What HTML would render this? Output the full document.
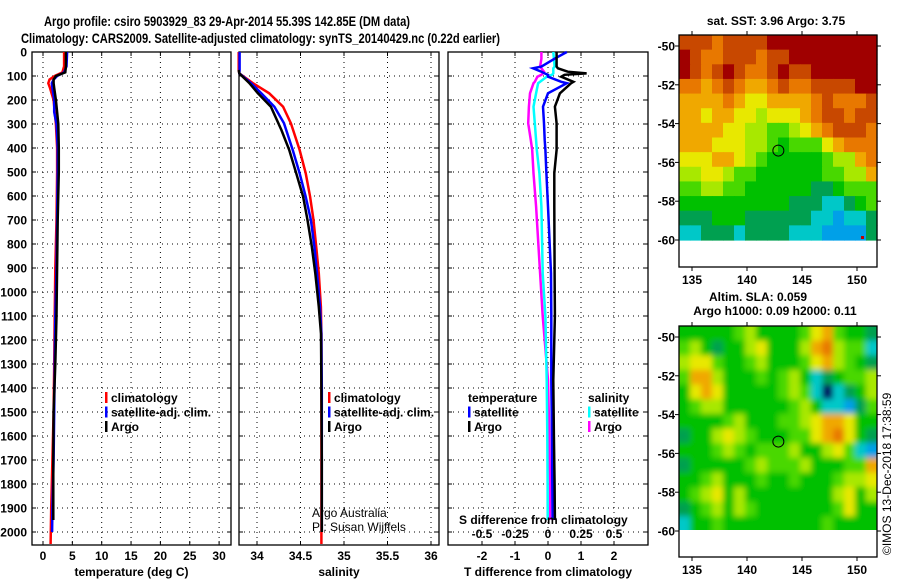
<!DOCTYPE html>
<html><head><meta charset="utf-8"><style>
html,body{margin:0;padding:0;background:#fff;}
svg{display:block;font-family:"Liberation Sans",Arial,sans-serif;}
.b{font-weight:bold;font-size:12px;}
</style></head><body>
<svg id="fig" width="900" height="580" viewBox="0 0 900 580" xmlns="http://www.w3.org/2000/svg">
<defs>
<filter id="blur" x="0" y="0" width="1" height="1"><feGaussianBlur stdDeviation="3"/></filter>
<clipPath id="slaclip"><rect x="679" y="326" width="198" height="204"/></clipPath>
</defs>
<text x="44" y="26" font-size="14" font-weight="bold" textLength="366" lengthAdjust="spacingAndGlyphs">Argo profile: csiro 5903929_83 29-Apr-2014 55.39S 142.85E (DM data)</text>
<text x="21" y="43" font-size="14" font-weight="bold" textLength="479" lengthAdjust="spacingAndGlyphs">Climatology: CARS2009. Satellite-adjusted climatology: synTS_20140429.nc (0.22d earlier)</text>
<g id="layer"></g>
</svg>
<script>
// ---------- data ----------
const tDepthClim=[0,60,85,100,115,130,150,200,250,300,400,500,700,900,1100,1300,1500,1700,1900,2050];
const tClim=[3.6,3.6,3.3,2.0,1.1,0.9,1.2,1.8,2.0,2.2,2.4,2.4,2.3,2.1,2.0,1.9,1.8,1.6,1.4,1.3];
const tDepthSat=[0,60,85,100,115,130,150,200,250,300,400,500,700,900,1100,1300,1500,1700,1900,2000];
const tSat=[4.1,4.0,3.6,2.4,1.8,1.5,1.6,1.9,1.9,2.3,2.5,2.5,2.4,2.3,2.1,2.0,1.9,1.8,1.6,1.55];
const tDepthArgo=[0,60,85,100,115,130,150,200,250,300,400,500,700,900,1100,1300,1500,1700,1950];
const tArgo=[3.9,3.9,3.8,2.2,1.8,1.8,1.9,2.2,2.4,2.6,2.7,2.7,2.5,2.4,2.3,2.1,1.8,1.75,1.75];
const sDepthClim=[0,75,89,129,172,228,297,408,505,603,700,811,922,1062,1174,1400,1700,2050];
const sClim=[33.79,33.79,33.797,33.95,34.14,34.30,34.39,34.49,34.56,34.61,34.65,34.68,34.71,34.735,34.74,34.74,34.74,34.74];
const sDepthSat=[0,75,89,129,172,228,297,408,505,603,700,811,922,1062,1174,1400,1700,2000];
const sSat=[33.80,33.80,33.797,33.93,34.05,34.20,34.31,34.41,34.49,34.56,34.62,34.66,34.69,34.724,34.74,34.745,34.745,34.745];
const sDepthArgo=[75,89,129,172,228,325,408,505,603,700,811,922,1062,1174,1400,1700,2000];
const sArgo=[33.79,33.797,33.91,34.01,34.16,34.28,34.37,34.45,34.53,34.58,34.63,34.67,34.71,34.736,34.74,34.745,34.745];
const dDepth=[0,28,61,68,82,89,95,103,124,130,172,228,297,367,408,505,644,922,1100,1367,1600,1800,1950];
const dTArgo=[0.26,0.26,0.26,0.3,0.6,1.17,0.5,0.4,0.77,0.7,0.36,0.21,0.26,0.26,0.26,0.19,0.19,0.2,0.21,0.16,0.18,0.2,0.21];
const dTSat=[0.57,0.2,-0.2,-0.45,-0.2,-0.1,0.0,0.0,0.4,0.57,0.0,-0.15,-0.12,-0.1,-0.08,-0.05,0.0,0.09,0.1,0.1,0.12,0.13,0.14];
const dSSat=[0.04,0.045,0.05,0.04,0.04,0.04,0.03,-0.01,-0.06,-0.075,-0.09,-0.11,-0.1,-0.09,-0.085,-0.065,-0.05,-0.04,-0.02,-0.01,-0.005,-0.003,-0.002];
const dSArgo=[-0.05,-0.05,-0.06,-0.05,-0.03,-0.04,-0.05,-0.08,-0.1,-0.11,-0.136,-0.145,-0.15,-0.13,-0.12,-0.11,-0.09,-0.06,-0.04,0.0,0.01,0.015,0.015];
const depthTicks=[0,100,200,300,400,500,600,700,800,900,1000,1100,1200,1300,1400,1500,1600,1700,1800,1900,2000];
const tempTicks=[0,5,10,15,20,25,30];
const salTicks=[34,34.5,35,35.5,36];
const salTickLabels=["34","34.5","35","35.5","36"];
const dTTicks=[-2,-1,0,1,2];
const dSTicks=[-0.5,-0.25,0,0.25,0.5];
const dSTickLabels=["-0.5","-0.25","0","0.25","0.5"];
const lonTicks=[135,140,145,150];
const latTicks=[-50,-52,-54,-56,-58,-60];
const argoLon=142.85, argoLat=-55.39;
const palette=["#a00000","#c84800","#e87800","#f0a800","#e8e800","#a8e800","#48d800","#00c000","#00a050","#00c8c8","#00a0e8","#0000d0","#000060"];
const sstGrid=[
"111211110000000000","012211121100000000","012101221011000000","223212332122111100",
"333323443333212221","334334454443211211","333344556654321112","333444556766643222",
"444334567777765532","554456677777766553","665566777777887666","777777777788899876",
"88877788888899a998","9988898888999aaaa8"];
const slaGrid=[
"777776577776436778","657877547775325669","544677657776435678","633577767657987665",
"7434777776569c9875","765577777765799a86","777765777665433477","877545677766432478",
"77765676665775469a","877777656665777663","776577767767776554","765475777777775475",
"876575677777776477","977677777777767777"];

const L=document.getElementById('layer');
const NS='http://www.w3.org/2000/svg';
function mk(tag,attrs,parent){const e=document.createElementNS(NS,tag);for(const k in attrs)e.setAttribute(k,attrs[k]);(parent||L).appendChild(e);return e;}

// ---------- profile axes ----------
const yTop=52, yPerM=0.24, yBot=545;
const dy=d=>yTop+d*yPerM;
function panel(name,x0,x1,xs,xticks,xlabels,xtitle){
  const g=mk('g',{});
  
  
  depthTicks.forEach(d=>{
    const l=mk('line',{x1:x0,x2:x1,y1:dy(d),y2:dy(d),stroke:'#000','stroke-dasharray':'1 4','stroke-width':1},g);
    
    
    mk('line',{x1:x0,x2:x0+4,y1:dy(d),y2:dy(d),stroke:'#000'},g);
    mk('line',{x1:x1-4,x2:x1,y1:dy(d),y2:dy(d),stroke:'#000'},g);
  });
  xticks.forEach((v,i)=>{
    const x=xs(v);
    const l=mk('line',{x1:x,x2:x,y1:yTop,y2:yBot,stroke:'#000','stroke-dasharray':'1 4','stroke-width':1},g);
    
    
    mk('line',{x1:x,x2:x,y1:yBot-4,y2:yBot,stroke:'#000'},g);
    mk('line',{x1:x,x2:x,y1:yTop,y2:yTop+4,stroke:'#000'},g);
    if(xlabels){const t=mk('text',{x:x,y:560,'text-anchor':'middle',class:'b'},g);t.textContent=xlabels[i];
      
      }
  });
  const r=mk('rect',{x:x0,y:yTop,width:x1-x0,height:yBot-yTop,fill:'none',stroke:'#000','stroke-width':1.3},g);
  
  
  const t=mk('text',{x:(x0+x1)/2,y:576,'text-anchor':'middle',class:'b'},g);t.textContent=xtitle;
  
  
  return g;
}
function line(xs,vals,depths,color,name,w){
  const pts=vals.map((v,i)=>xs(v).toFixed(1)+','+dy(depths[i]).toFixed(1)).join(' ');
  const p=mk('polyline',{points:pts,fill:'none',stroke:color,'stroke-width':w||2.5,'stroke-linejoin':'miter'});
  
  
}
function legend(x,y,items){
  items.forEach((it,i)=>{
    const yy=y+i*14.5;
    if(it.c) mk('rect',{x:x,y:yy-10,width:2.5,height:11,fill:it.c});
    const t=mk('text',{x:x+(it.c?6:0),y:yy,class:'b'});t.textContent=it.t;
    
    
  });
}
depthTicks.forEach(d=>{const t=mk('text',{x:27,y:dy(d)+4.5,'text-anchor':'end',class:'b'});t.textContent=d;
  
  });

const xT=v=>43+v*5.87;
panel('temperature-panel',32,231,xT,tempTicks,tempTicks.map(String),'temperature (deg C)');
line(xT,tClim,tDepthClim,'#ff0000','temp-climatology-line');
line(xT,tSat,tDepthSat,'#0000ff','temp-satellite-line');
line(xT,tArgo,tDepthArgo,'#000000','temp-argo-line');
legend(105,402,[{c:'#f00',t:'climatology'},{c:'#00f',t:'satellite-adj. clim.'},{c:'#000',t:'Argo'}]);

const xS=v=>257+(v-34)*87;
panel('salinity-panel',239,439,xS,salTicks,salTickLabels,'salinity');
line(xS,sClim,sDepthClim,'#ff0000','sal-climatology-line');
line(xS,sSat,sDepthSat,'#0000ff','sal-satellite-line');
line(xS,sArgo,sDepthArgo,'#000000','sal-argo-line');
legend(328,402,[{c:'#f00',t:'climatology'},{c:'#00f',t:'satellite-adj. clim.'},{c:'#000',t:'Argo'}]);
[['Argo Australia',517],['PI: Susan Wijffels',531]].forEach(a=>{const t=mk('text',{x:312,y:a[1],'font-size':'12'});t.textContent=a[0];
  
  });

const xDT=v=>548+v*33;
const xDS=v=>548+v*132;
panel('difference-panel',448,648,xDT,dTTicks,dTTicks.map(String),'T difference from climatology');
line(xDS,dSArgo,dDepth,'#ff00ff','sdiff-argo-line');
line(xDS,dSSat,dDepth,'#00ffff','sdiff-satellite-line');
line(xDT,dTSat,dDepth,'#0000ff','tdiff-satellite-line');
line(xDT,dTArgo,dDepth,'#000000','tdiff-argo-line');
legend(468,402,[{t:'temperature'},{c:'#00f',t:'satellite'},{c:'#000',t:'Argo'}]);
legend(588,402,[{t:'salinity'},{c:'#0ff',t:'satellite'},{c:'#f0f',t:'Argo'}]);
{const t=mk('text',{x:459,y:524,class:'b'});t.textContent='S difference from climatology';
 
 }
dSTicks.forEach((v,i)=>{const t=mk('text',{x:xDS(v),y:538,'text-anchor':'middle',class:'b'});t.textContent=dSTickLabels[i];
 
 });

// ---------- maps ----------
function map(name,top,bot,grid,titles,smooth){
  const x0=679,x1=877,lat50=top+11,pxLat=19.4;
  const ly=lat=>lat50+(-50-lat)*pxLat;
  const lx=lon=>692+(lon-135)*11;
  const g=mk('g',{});
  
  
  const cellsWrap=mk('g',smooth?{'clip-path':'url(#slaclip)'}:{},g);
  const cells=mk('g',smooth?{filter:'url(#blur)'}:{},cellsWrap);
  const rows=grid.length, yData0=top, yData1=ly(-60);
  const pad=smooth?8:0;
  grid.forEach((row,ri)=>{
    const vals=row.split('').map(ch=>parseInt(ch,16));
    const cw=(x1-x0)/vals.length, ch=(yData1-yData0)/rows;
    vals.forEach((v,ci)=>{
      let x=x0+ci*cw,y=yData0+ri*ch,w=cw+0.6,h=ch+0.6;
      if(smooth){if(ci===0){x-=pad;w+=pad;} if(ci===vals.length-1)w+=pad; if(ri===0){y-=pad;h+=pad;} if(ri===rows-1)h+=pad;}
      mk('rect',{x:x.toFixed(2),y:y.toFixed(2),width:w.toFixed(2),height:h.toFixed(2),fill:palette[v]},cells);
    });
  });
  const c=mk('circle',{cx:lx(argoLon),cy:ly(argoLat),r:5.5,fill:'none',stroke:'#000','stroke-width':1},g);
  
  
  mk('rect',{x:x0,y:top,width:x1-x0,height:bot-top,fill:'none',stroke:'#000','stroke-width':1.3},g);
  lonTicks.forEach(v=>{mk('line',{x1:lx(v),x2:lx(v),y1:top-4,y2:top,stroke:'#000'},g);mk('line',{x1:lx(v),x2:lx(v),y1:bot,y2:bot+4,stroke:'#000'},g);
    const t=mk('text',{x:lx(v),y:bot+17,'text-anchor':'middle',class:'b'},g);t.textContent=v;
    
    });
  latTicks.forEach(v=>{mk('line',{x1:x0-4,x2:x0,y1:ly(v),y2:ly(v),stroke:'#000'},g);mk('line',{x1:x1,x2:x1+4,y1:ly(v),y2:ly(v),stroke:'#000'},g);
    const t=mk('text',{x:x0-4,y:ly(v)+4.5,'text-anchor':'end',class:'b'},g);t.textContent=v;
    
    });
  titles.forEach(a=>{const t=mk('text',{x:a[1],y:a[2],'text-anchor':'middle',class:'b'},g);t.textContent=a[0];
    
    });
}
map('sst-map',35,267,sstGrid,[['sat. SST: 3.96 Argo: 3.75',776,25]],false);
map('sla-map',326,557,slaGrid,[['Altim. SLA: 0.059',758,301],['Argo h1000: 0.09 h2000: 0.11',775,315]],true);
mk('rect',{x:861,y:236,width:3,height:3,fill:'#c00000'});
{const t=mk('text',{x:0,y:0,'font-size':'12',transform:'translate(891,555) rotate(-90)'});t.textContent='©IMOS 13-Dec-2018 17:38:59';
 
 }
</script>
</body></html>
